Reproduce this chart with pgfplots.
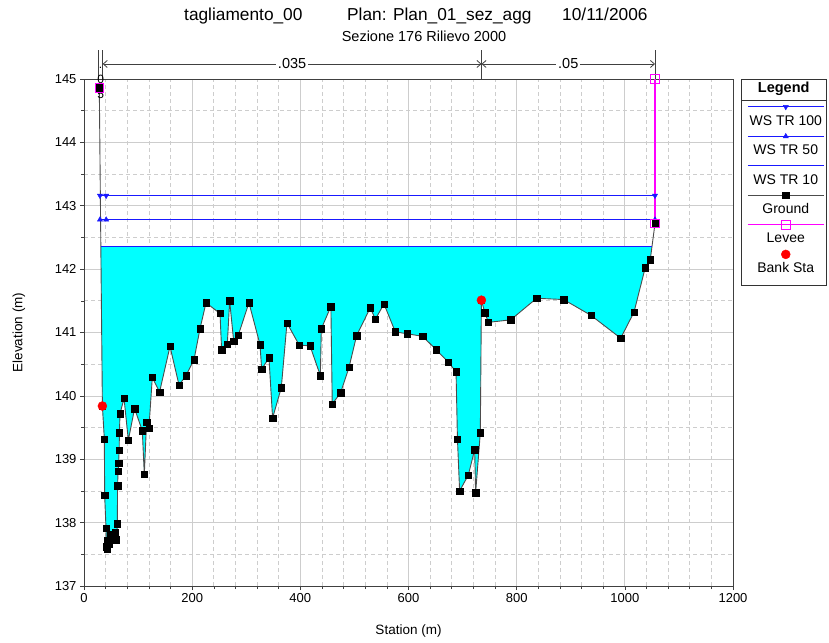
\documentclass[border=0pt]{standalone}
\usepackage{fontspec}
\setmainfont{Liberation Sans}
\usepackage{pgfplots}
\pgfplotsset{compat=1.18}
\usetikzlibrary{arrows.meta}
\definecolor{wsblue}{RGB}{25,25,255}
\definecolor{gridgray}{RGB}{205,205,205}
\definecolor{wcyan}{RGB}{0,255,255}
\definecolor{levee}{RGB}{255,0,255}
\newcommand{\legimg}[1]{%
  \path[draw=none,fill=none] (0pt,-22pt) rectangle (76pt,7.5pt);%
  \node[black,draw=none,fill=none,font=\fontsize{14}{16}\selectfont] at (38pt,-14pt) {#1};}
\pgfplotsset{
  linelegend/.style={legend image code/.code={\draw[mark repeat=2,mark phase=2,##1] plot coordinates {(0pt,0pt)(38pt,0pt)(76pt,0pt)};\legimg{#1}}},
  marklegend/.style={legend image code/.code={\draw[##1] plot coordinates {(38pt,0pt)};\legimg{#1}}},
  blulegend/.style={legend image code/.code={\draw[draw=wsblue, line width=1.1pt] (0pt,0pt) -- (76pt,0pt);\draw[##1] plot coordinates {(38pt,0pt)};\legimg{#1}}},
  gndlegend/.style={legend image code/.code={\draw[draw=black!70, line width=0.9pt] (0pt,0pt) -- (76pt,0pt);\draw[##1] plot coordinates {(38pt,0pt)};\legimg{#1}}},
}
\pgfplotstableread{
x y
28.3 144.86
34.0 139.84
37.6 139.32
38.2 138.43
40.7 137.91
41.5 137.62
42.5 137.58
44 137.72
46 137.66
48 137.80
50 137.72
53 137.82
56 137.76
58 137.85
60 137.73
61.6 137.98
62.1 138.58
63 138.81
64 138.94
65.0 139.14
65.5 139.42
66.6 139.72
74 139.96
82 139.30
93.5 139.80
107.8 139.45
111.5 138.76
115.7 139.58
120 139.49
126.3 140.29
139.7 140.06
159 140.78
175.7 140.17
188.6 140.32
203.4 140.57
214.5 141.06
225.6 141.47
251.5 141.30
254.4 140.73
265 140.82
269.3 141.50
276.8 140.86
285.4 140.96
305 141.47
325.4 140.81
328.5 140.42
342 140.60
348.7 139.65
364.8 140.13
375.3 141.15
398 140.80
417.9 140.79
437 140.32
438.8 141.06
456.5 141.41
459 139.87
474.5 140.05
490 140.45
504 140.95
529.3 141.39
538.7 141.21
554.7 141.45
575.6 141.01
597.3 140.98
626.1 140.94
650.9 140.73
673.8 140.53
687.9 140.38
690.5 139.32
694.5 138.50
710.6 138.75
722.3 139.15
724.1 138.47
732.8 139.42
734.8 141.51
741.2 141.31
747.8 141.16
789 141.20
836.9 141.54
886.8 141.52
937.5 141.27
992.3 140.91
1016.9 141.32
1037.6 142.02
1047 142.15
1055.8 142.72
}\ground
\usepackage{pgfplotstable}
\begin{document}
\begin{tikzpicture}[x=1pt,y=1pt]
\path[use as bounding box] (0,0) rectangle (829,642);
\begin{axis}[
  at={(84pt,56pt)}, anchor=south west,
  scale only axis, width=649pt, height=507pt,
  xmin=0, xmax=1200, ymin=137, ymax=145,
  xtick={0,200,...,1200}, ytick={137,138,...,145},
  minor x tick num=4, minor y tick num=1,
  grid=both,
  major grid style={gridgray, line width=0.7pt},
  minor grid style={gridgray, dash pattern=on 4pt off 3pt, line width=0.7pt},
  axis line style={black!75, line width=0.8pt},
  tick style={black!75, line width=0.6pt},
  tick align=outside,
  xtick pos=bottom, ytick pos=left,
  major tick length=4pt, minor tick length=3pt,
  /pgf/number format/assume math mode=true,
  /pgf/number format/1000 sep={},
  tick label style={font=\fontsize{13}{15}\selectfont},
  xlabel={Station (m)}, ylabel={Elevation (m)},
  label style={font=\fontsize{13.5}{15}\selectfont},
  x label style={at={(axis description cs:0.5,-0.0888)}, anchor=center},
  y label style={at={(axis description cs:-0.1002,0.5)}, anchor=center},
  clip=false,
  legend style={at={(axis description cs:1.0216,0.9602)}, anchor=north west,
    draw=none, fill=none, inner sep=0pt, row sep=0pt,
    nodes={inner sep=0pt, outer sep=0pt},
    /tikz/every even column/.append style={column sep=0pt}},
]
% water area (WS TR 10)
\addplot[fill=wcyan, draw=none, forget plot] coordinates {
(31.1,142.35) (34.0,139.84) (37.6,139.32) (38.2,138.43) (40.7,137.91)
(41.5,137.62) (42.5,137.58) (44,137.72) (46,137.66) (48,137.80) (50,137.72)
(53,137.82) (56,137.76) (58,137.85) (60,137.73) (61.6,137.98)
(62.1,138.58) (63,138.81) (64,138.94) (65.0,139.14) (65.5,139.42)
(66.6,139.72) (74,139.96) (82,139.30) (93.5,139.80) (107.8,139.45)
(111.5,138.76) (115.7,139.58) (120,139.49) (126.3,140.29) (139.7,140.06)
(159,140.78) (175.7,140.17) (188.6,140.32) (203.4,140.57) (214.5,141.06)
(225.6,141.47) (251.5,141.30) (254.4,140.73) (265,140.82) (269.3,141.50)
(276.8,140.86) (285.4,140.96) (305,141.47) (325.4,140.81) (328.5,140.42)
(342,140.60) (348.7,139.65) (364.8,140.13) (375.3,141.15) (398,140.80)
(417.9,140.79) (437,140.32) (438.8,141.06) (456.5,141.41) (459,139.87)
(474.5,140.05) (490,140.45) (504,140.95) (529.3,141.39) (538.7,141.21)
(554.7,141.45) (575.6,141.01) (597.3,140.98) (626.1,140.94) (650.9,140.73)
(673.8,140.53) (687.9,140.38) (690.5,139.32) (694.5,138.50) (710.6,138.75)
(722.3,139.15) (724.1,138.47) (732.8,139.42) (734.8,141.51) (741.2,141.31)
(747.8,141.16) (789,141.20) (836.9,141.54) (886.8,141.52) (937.5,141.27)
(992.3,140.91) (1016.9,141.32) (1037.6,142.02) (1047,142.15) (1050.1,142.35)
} -- cycle;
% WS lines (drawn without marks)
\addplot[color=wsblue, line width=1.1pt, no marks, forget plot]
  coordinates {(29.5,143.16) (1055.8,143.16)};
\addplot[color=wsblue, line width=1.1pt, no marks, forget plot]
  coordinates {(29.5,142.78) (1055.8,142.78)};
% Ground line
\addplot[color=black!70, line width=0.9pt, no marks, forget plot] table[x=x,y=y] {\ground};
% WS TR 100 markers
\addplot[color=wsblue, only marks, mark=triangle*, mark size=3pt,
  mark options={rotate=180}, blulegend={WS TR 100}]
  coordinates {(29.5,143.16) (41,143.16) (1055.8,143.16)};
\addlegendentry{\hbox{}}
% WS TR 50 markers
\addplot[color=wsblue, only marks, mark=triangle*, mark size=3pt, blulegend={WS TR 50}]
  coordinates {(29.5,142.78) (41,142.78) (1055.8,142.78)};
\addlegendentry{\hbox{}}
% WS TR 10
\addplot[color=wsblue, draw=wsblue, line width=1.1pt, no marks, linelegend={WS TR 10}]
  coordinates {(31.1,142.35) (1050.1,142.35)};
\addlegendentry{\hbox{}}
% Ground markers
\addplot[color=black, only marks, mark=square*, mark size=3.2pt, gndlegend={Ground}]
  table[x=x,y=y] {\ground};
\addlegendentry{\hbox{}}
% Levee
\addplot[color=levee, draw=levee, line width=1.1pt, mark=square, mark size=4.3pt,
  mark options={draw=levee, fill=none, line width=0.8pt}, linelegend={Levee}]
  coordinates {(1055.8,142.72) (1055.8,145)};
\addlegendentry{\hbox{}}
\addplot[color=levee, only marks, mark=square, mark size=4.3pt, mark options={line width=0.8pt}, forget plot]
  coordinates {(28.3,144.86)};
% Bank stations
\addplot[color=red, only marks, mark=*, mark size=4.5pt, marklegend={Bank Sta}]
  coordinates {(34.0,139.84) (734.8,141.51)};
\addlegendentry{\hbox{}}
% Manning n regions
\draw[black!75, line width=0.8pt] (axis cs:26.5,145) -- (axis cs:26.5,145.46);
\draw[black!75, line width=0.8pt] (axis cs:34.5,145) -- (axis cs:34.5,145.46);
\draw[black!75, line width=0.8pt] (axis cs:735,145) -- (axis cs:735,145.46);
\draw[black!75, line width=0.8pt] (axis cs:1055.8,145) -- (axis cs:1055.8,145.46);
\draw[black!75, line width=0.8pt, {Straight Barb[length=4pt,width=7pt]}-{Straight Barb[length=4pt,width=7pt]}]
  (axis cs:34.5,145.237) -- (axis cs:735,145.237)
  node[midway, fill=white, inner sep=2pt, text=black, font=\fontsize{14.5}{16}\selectfont] {.035};
\draw[black!75, line width=0.8pt, {Straight Barb[length=4pt,width=7pt]}-{Straight Barb[length=4pt,width=7pt]}]
  (axis cs:735,145.237) -- (axis cs:1055.8,145.237)
  node[midway, fill=white, inner sep=2pt, text=black, font=\fontsize{14.5}{16}\selectfont] {.05};
\node[font=\fontsize{12}{13}\selectfont, inner sep=0pt] at (axis cs:30.7,145.18) {.};
\node[font=\fontsize{12}{13}\selectfont, inner sep=0pt] at (axis cs:30.7,145.0) {0};
\node[font=\fontsize{12}{13}\selectfont, inner sep=0pt] at (axis cs:30.7,144.76) {5};
\end{axis}
% titles
\node[anchor=base west, font=\fontsize{17.3}{20}\selectfont, inner sep=0pt] at (184,621) {tagliamento\_00};
\node[anchor=base west, font=\fontsize{17.3}{20}\selectfont, inner sep=0pt] at (347,621) {Plan: Plan\_01\_sez\_agg};
\node[anchor=base west, font=\fontsize{17.3}{20}\selectfont, inner sep=0pt] at (562,621) {10/11/2006};
\node[anchor=base, font=\fontsize{14.5}{16}\selectfont, inner sep=0pt] at (424,600) {Sezione 176 Rilievo 2000};
% legend frame
\draw[black!80, line width=0.8pt] (741,357) rectangle (826.5,562.7);
\draw[black!80, line width=0.8pt] (741,542) -- (826.5,542);
\node[font=\bfseries\fontsize{14.5}{16}\selectfont] at (783.7,553) {Legend};
\end{tikzpicture}
\end{document}
